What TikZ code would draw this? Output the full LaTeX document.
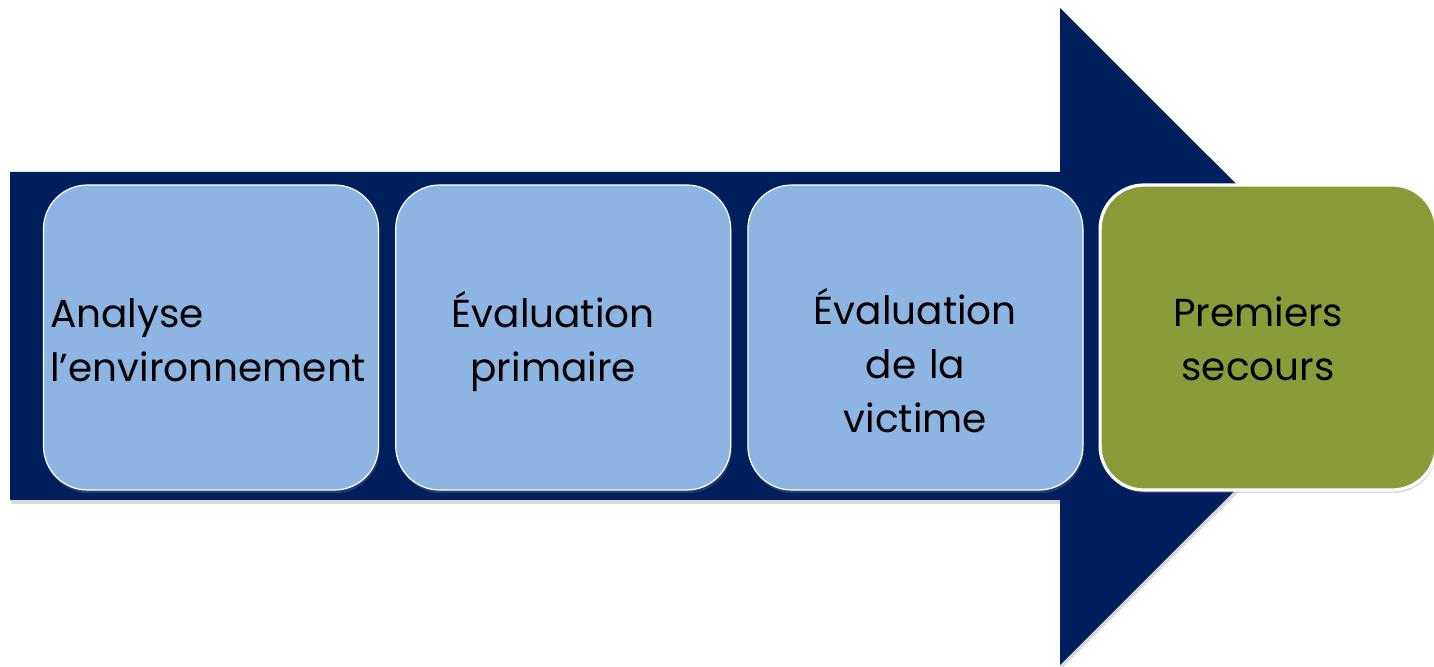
\documentclass[tikz,border=0pt]{standalone}
\usepackage{fontspec}
\setmainfont{Poppins}
\usetikzlibrary{positioning,shadows}
\definecolor{navy}{HTML}{001F5C}
\definecolor{paleblue}{HTML}{8EB4E2}
\definecolor{olive}{HTML}{8A9B3A}

\tikzset{%
  etape/.style={draw=white, fill=paleblue, line width=0.6pt, minimum width=167.5pt, minimum height=152.5pt, rounded corners=22pt, drop shadow={shadow xshift=0.5pt, shadow yshift=-1.5pt, opacity=0.3}},
  final/.style={etape, fill=olive, line width=1.6pt},
  texte/.style={text width=165pt, align=center, inner sep=0pt, anchor=base, font=\fontsize{19.5}{27}\selectfont},
  fleche/.style={fill=navy, drop shadow={shadow xshift=0.5pt, shadow yshift=-2pt, opacity=0.3}},
}

\begin{document}
\begin{tikzpicture}[x=0.5pt, y=-0.5pt, node distance=8pt]
\useasboundingbox (0,0) rectangle (1434,667);
% la grande fleche
\path[fleche] (10,172) -- (1060,172) -- (1060,8) -- (1389,336.5) -- (1060,665) -- (1060,500) -- (10,500) -- cycle;
% les etapes
\node[etape] (box1) at (211,337.5) {};
\node[etape] (box2) [right=of box1] {};
\node[etape] (box3) [right=of box2] {};
\node[final, minimum width=168pt] (box4) [right=7.5pt of box3] {};
\node[texte, align=left, anchor=base west] (t1) at ([xshift=3.5pt, yshift=-71.5pt]box1.north west) {Analyse\\l’environnement};
\node[texte] (t2) at ([xshift=-5pt, yshift=-71.5pt]box2.north) {Évaluation\\primaire};
\node[texte] (t3) at ([yshift=-70pt]box3.north) {Évaluation\\de la\\victime};
\node[texte] (t4) at ([xshift=-5pt, yshift=-71.5pt]box4.north) {Premiers\\secours};
\end{tikzpicture}
\end{document}
